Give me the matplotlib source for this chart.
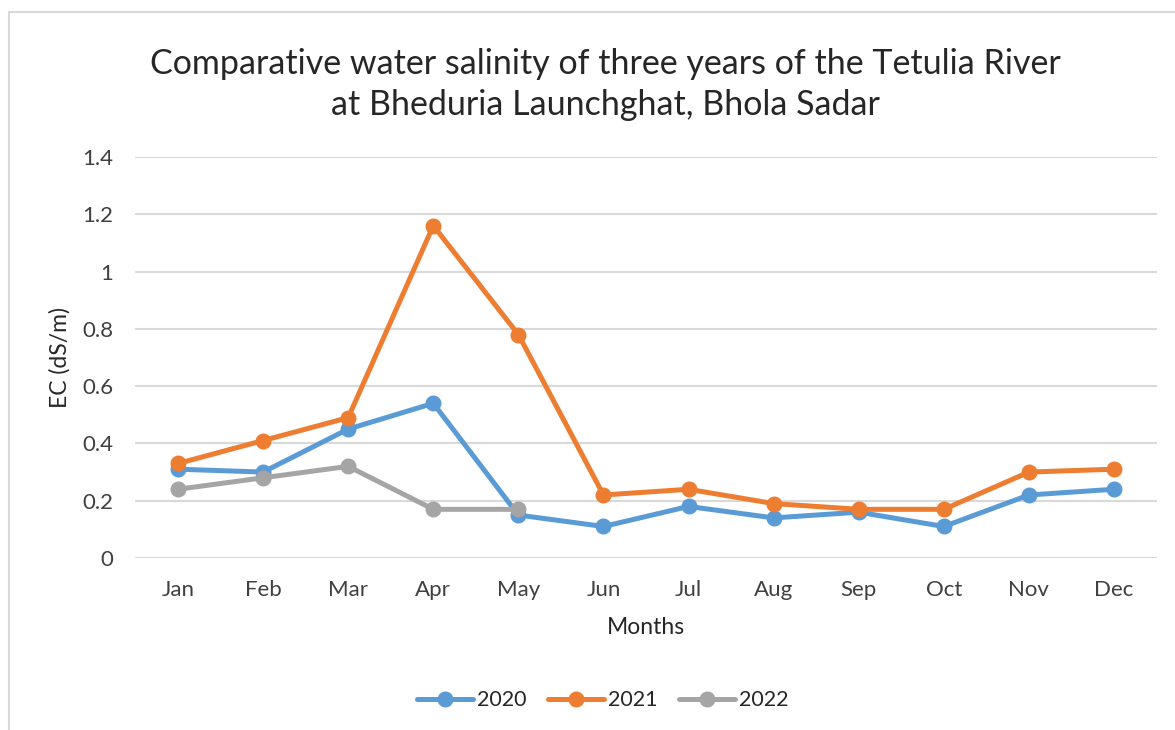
import numpy as np
import matplotlib
matplotlib.use("Agg")
import matplotlib.pyplot as plt
from matplotlib.patches import Rectangle

months = ["Jan", "Feb", "Mar", "Apr", "May", "Jun", "Jul", "Aug", "Sep", "Oct", "Nov", "Dec"]
ec_2020 = [0.31, 0.30, 0.45, 0.54, 0.15, 0.11, 0.18, 0.14, 0.16, 0.11, 0.22, 0.24]
ec_2021 = [0.33, 0.41, 0.49, 1.16, 0.78, 0.22, 0.24, 0.19, 0.17, 0.17, 0.30, 0.31]
ec_2022 = [0.24, 0.28, 0.32, 0.17, 0.17]
y_ticks = [0, 0.2, 0.4, 0.6, 0.8, 1, 1.2, 1.4]

plt.rcParams['font.family'] = ['Lato', 'DejaVu Sans']
text_colour = '#262626'

fig = plt.figure(figsize=(11.75, 7.3), dpi=100)
ax = fig.add_axes([0.1153, 0.2356, 0.869, 0.5494])

x = np.arange(len(months))
series = [("2020", ec_2020, '#5B9BD5'), ("2021", ec_2021, '#ED7D31'), ("2022", ec_2022, '#A5A5A5')]
for name, values, colour in series:
	ax.plot(x[:len(values)], values, color=colour, linewidth=3.6, marker='o', markersize=10.5,
			label=name, solid_capstyle='round', zorder=3)

ax.set_xlim(-0.5, len(months) - 0.5)
ax.set_ylim(0, 1.4)
ax.set_yticks(y_ticks)
ax.set_yticklabels([f"{t:g}" for t in y_ticks])
ax.set_xticks(x)
ax.set_xticklabels(months)
ax.grid(axis='y', color='#d9d9d9', linewidth=1.5, zorder=0)
ax.set_axisbelow(True)
for spine in ax.spines.values():
	spine.set_visible(False)
ax.tick_params(axis='both', length=0, labelsize=16, colors='#404040')
ax.tick_params(axis='x', pad=16)
ax.tick_params(axis='y', pad=16)

ax.set_xlabel("Months", fontsize=16.5, color=text_colour, labelpad=12)
ax.set_ylabel("EC (dS/m)", fontsize=16.5, color=text_colour, labelpad=8)

fig.text(0.515, 0.884, "Comparative water salinity of three years of the Tetulia River\nat Bheduria Launchghat, Bhola Sadar",
		 ha='center', va='center', fontsize=24.5, color=text_colour, linespacing=1.35)

ax.legend(loc='center', bbox_to_anchor=(0.513, 0.041), bbox_transform=fig.transFigure, ncol=3,
		  frameon=False, fontsize=15.5, handlelength=2.6, columnspacing=1.0, handletextpad=0.2,
		  labelcolor=text_colour)

fig.patches.append(Rectangle((0.008, -0.01), 1.0, 0.993, transform=fig.transFigure,
							 fill=False, edgecolor='#d9d9d9', linewidth=1.5))

fig.savefig("out.png", dpi=100)
